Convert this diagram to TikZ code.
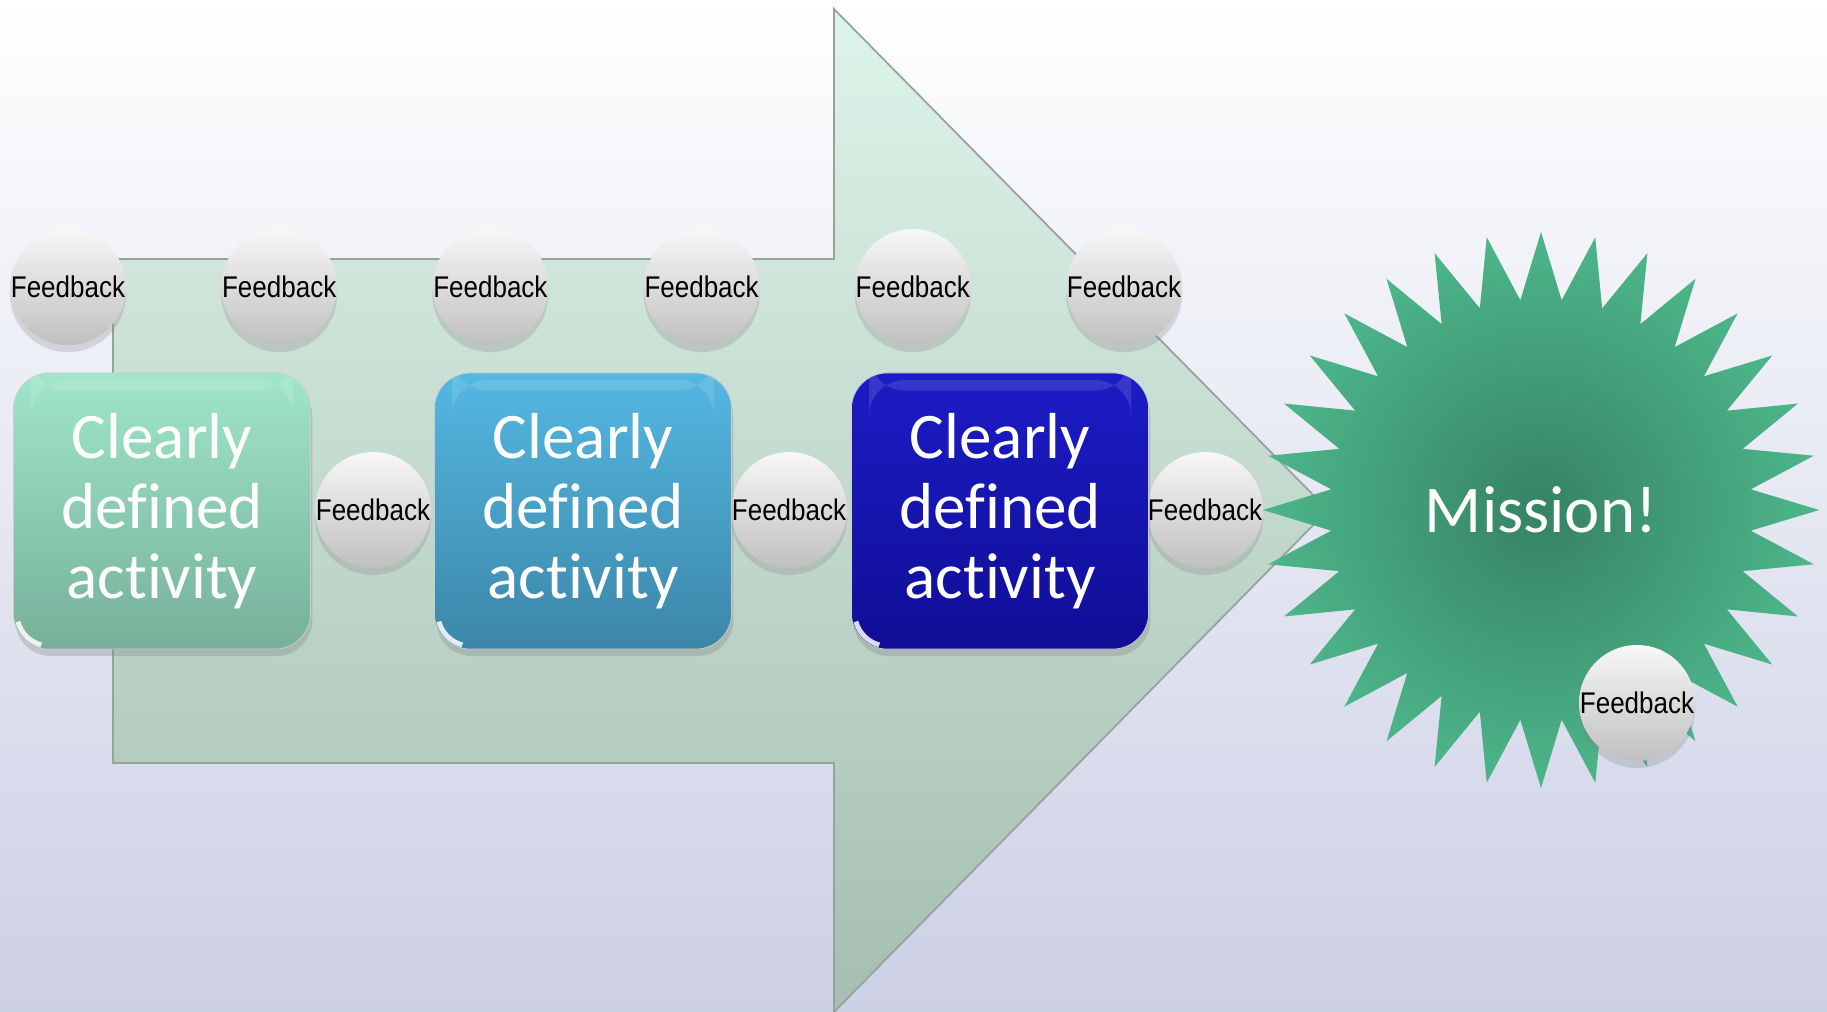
\documentclass[tikz,border=0pt]{standalone}
\usepackage{fontspec}
\setmainfont{Carlito}[Ligatures=NoCommon]
\newfontfamily\feedfont[FakeStretch=0.87]{Liberation Sans}
\usetikzlibrary{shapes.geometric,shadows}

\definecolor{bgMid}{RGB}{236,237,245}
\definecolor{bgBottom}{RGB}{204,208,229}
\definecolor{arrowTop}{RGB}{222,243,233}
\definecolor{arrowBottom}{RGB}{166,190,178}
\definecolor{arrowEdge}{RGB}{150,162,156}
\definecolor{ballTop}{RGB}{247,247,247}
\definecolor{ballBottom}{RGB}{192,192,192}
\definecolor{mintTop}{RGB}{160,230,201}
\definecolor{mintBottom}{RGB}{118,176,154}
\definecolor{skyTop}{RGB}{84,184,226}
\definecolor{skyBottom}{RGB}{60,134,168}
\definecolor{navyTop}{RGB}{28,28,198}
\definecolor{navyBottom}{RGB}{16,14,150}
\definecolor{starInner}{RGB}{54,130,100}
\definecolor{starOuter}{RGB}{77,182,138}

\begin{document}
\begin{tikzpicture}
[x=0.01cm, y=-0.01cm,
  feedBall/.style={circle, minimum size=1.16cm, inner sep=0pt,
    top color=ballTop, bottom color=ballBottom,
    drop shadow={shadow xshift=0pt, shadow yshift=-2pt, opacity=0.25},
    font=\feedfont\fontsize{8.5}{10}\selectfont},
  activityBox/.style={rectangle, rounded corners=0.36cm,
    minimum width=2.97cm, minimum height=2.76cm, inner sep=0pt,
    align=center, text=white, draw=black!20, line width=0.2pt,
    font=\fontsize{18.5}{20}\selectfont,
    drop shadow={shadow xshift=0.5pt, shadow yshift=-2pt, opacity=0.3},
    path picture={
      \fill[white, opacity=0.12]
        ([xshift=5pt, yshift=-2pt]path picture bounding box.north west)
        rectangle ([xshift=-5pt, yshift=-5pt]path picture bounding box.north east);
      \draw[white, line width=1.4pt, opacity=0.85]
        ([xshift=0.045cm, yshift=0.275cm]path picture bounding box.south west)
        arc[start angle=195, end angle=255, radius=0.33cm];}},
  missionStar/.style={star, star points=32, star point ratio=1.32,
    minimum size=5.56cm, inner sep=0pt, shading=radial,
    inner color=starInner, outer color=starOuter, text=white,
    font=\fontsize{19}{20}\selectfont}]

% background
\fill[top color=white, middle color=bgMid, bottom color=bgBottom]
  (0,0) rectangle (1827,1012);
\useasboundingbox (0,0) rectangle (1827,1012);

% big arrow
\draw[arrowEdge, line width=0.5pt, top color=arrowTop, bottom color=arrowBottom]
  (113,259) -- (834,259) -- (834,9) -- (1328,510) -- (834,1012)
  -- (834,763) -- (113,763) -- cycle;

% feedback along the top
\foreach \i in {1,...,6}
  \node[feedBall] (topFb\i) at ({68+211.2*(\i-1)},287) {Feedback};

% feedback between the activities
\foreach \i/\x in {1/373, 2/789, 3/1205}
  \node[feedBall] (midFb\i) at (\x,510) {Feedback};

% activities
\foreach \i/\x/\tone in {1/162/mint, 2/583/sky, 3/1000/navy}
  \node[activityBox, top color=\tone Top, bottom color=\tone Bottom]
    (act\i) at (\x,511) {Clearly\\defined\\activity};

% goal
\node[missionStar] (mission) at (1541,510) {Mission!};
\node[feedBall] (missionFb) at (1637,703) {Feedback};
\end{tikzpicture}
\end{document}
